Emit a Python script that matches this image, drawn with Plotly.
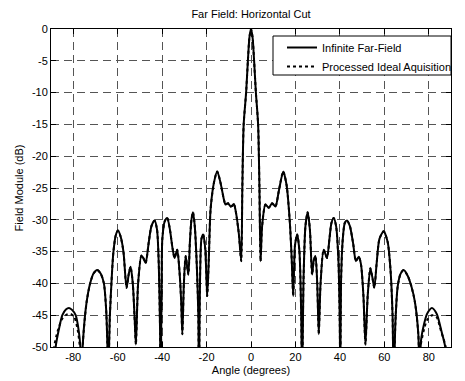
import plotly.graph_objects as go

# Solid curve: Infinite Far-Field (angle in degrees, field in dB)
solid_angle = [
    -89.0, -87.9, -86.5, -84.9, -83.3, -81.9, -80.4, -78.9, -77.5, -76.7, -76.4,
    -75.6, -74.0, -72.4, -70.8, -69.2, -67.6, -66.2, -65.2, -64.6, -64.3,
    -63.5, -62.5, -61.9, -60.9, -59.9, -58.7, -57.4, -56.0, -55.0, -54.2, -53.2, -52.3, -51.8,
    -50.8, -49.3, -48.2, -47.4, -46.0, -44.8, -43.4, -42.3, -41.5, -40.9, -40.7,
    -40.2, -39.9, -38.8, -37.7, -36.5, -35.3, -34.4, -33.2, -32.2, -31.4, -30.9,
    -30.2, -29.4, -28.2, -27.5, -26.8, -26.1, -25.3, -24.3, -23.7, -23.4,
    -22.3, -21.5, -20.6, -19.7, -19.0, -18.2, -16.7, -15.2, -13.7, -12.2, -11.5,
    -10.3, -9.2, -8.5, -7.7, -7.0, -5.5, -4.4,
    -3.9, -3.3, -2.2, -1.4, -0.7, 0.0, 0.7, 1.4, 2.2, 3.2, 3.8, 4.3,
    5.0, 6.5, 8.0, 9.5, 11.0, 12.5, 14.5, 16.0, 17.4, 18.3, 19.0,
    19.8, 20.8, 21.8, 22.6, 23.0,
    23.6, 24.5, 25.5, 26.5, 27.5, 28.2, 29.0, 29.8, 30.5,
    31.3, 32.7, 34.2, 35.3, 36.2, 37.2, 38.3, 39.3, 39.9, 40.2,
    40.5, 41.3, 42.2, 43.2, 44.5, 46.0, 47.2, 48.5, 49.5, 50.6, 51.5,
    52.5, 53.7, 54.6, 55.5, 56.5, 57.8, 59.7, 61.5, 62.8, 63.7, 64.2,
    65.0, 66.0, 67.3, 68.7, 70.5, 72.2, 73.8, 75.3, 75.9,
    76.5, 77.8, 79.2, 81.4, 83.6, 85.7, 87.4, 88.5,
]
solid_db = [
    -57, -50, -47.3, -45.0, -44.1, -43.85, -44.2, -45.0, -47.5, -50.5, -56,
    -49, -43, -40, -38.4, -37.9, -38.5, -40, -44, -50, -56,
    -45, -38, -35, -32.5, -31.7, -32.6, -35, -40.7, -38.5, -37.4, -40, -46, -49.6,
    -40, -35.6, -36.2, -36.8, -33.5, -31, -30.1, -31.5, -37, -48, -56,
    -40, -33, -30.2, -29.7, -31.5, -34.5, -36, -34.7, -38, -43, -48,
    -40, -35.7, -38.6, -33.5, -30, -28.8, -31, -38, -45, -56,
    -33, -32.3, -34.5, -42, -36.3, -28.4, -24.2, -22.4, -24.2, -26.8, -27.6,
    -27.4, -27.9, -27.8, -27.5, -28.4, -32.1, -36.5,
    -25, -15, -10, -5, -1.3, 0, -1.3, -5, -10, -15, -25, -36.5,
    -31.0, -27.6, -28.1, -27.4, -27.9, -25.5, -22.4, -24.5, -30, -36, -42,
    -34, -32.3, -35, -45, -56,
    -40, -31, -28.8, -31.5, -38.6, -36.5, -35.7, -40, -48,
    -40, -34.7, -36, -33, -30.5, -29.7, -31, -36, -45, -56,
    -40, -33, -30.5, -30.1, -31, -33.8, -36.5, -35.8, -37, -42, -49.6,
    -42, -37.6, -39, -40.7, -37, -33, -31.8, -33.5, -38, -45, -56,
    -46, -40.5, -38.5, -37.9, -38.8, -40.5, -43, -48, -56,
    -49, -46.5, -44.8, -43.85, -44.8, -47.5, -50, -57,
]

# Dotted curve: Processed Ideal Aquisition (differs only in the outer lobes)
dotted_left_angle = [-89.4, -88.6, -87.0, -85.0, -83.0, -81.1, -79.5, -78.0, -76.9, -76.4]
dotted_left_db = [-56, -50, -47.5, -45.6, -44.9, -44.8, -45.3, -47.3, -50.5, -56]
dotted_right_angle = [75.9, 76.3, 77.6, 79.2, 81.5, 83.5, 85.5, 87.6, 88.8]
dotted_right_db = [-56, -50, -47.6, -45.8, -45.0, -45.3, -47.5, -50, -57]

x_ticks = [-80, -60, -40, -20, 0, 20, 40, 60, 80]
x_tick_labels = ["-80", "-60", "-40", "-20", "0", "20", "40", "60", "80"]
y_ticks = [0, -5, -10, -15, -20, -25, -30, -35, -40, -45, -50]
y_tick_labels = ["0", "-5", "-10", "-15", "-20", "-25", "-30", "-35", "-40", "-45", "-50"]

mid = [(a, d) for a, d in zip(solid_angle, solid_db) if -76.4 < a < 75.9]
dotted_angle = dotted_left_angle + [a for a, _ in mid] + dotted_right_angle
dotted_db = dotted_left_db + [d for _, d in mid] + dotted_right_db

FONT = "Arial, Liberation Sans, sans-serif"

fig = go.Figure()
fig.add_trace(go.Scatter(
    x=solid_angle, y=solid_db, mode="lines", name="Infinite Far-Field",
    line=dict(color="black", width=2, shape="spline", smoothing=0.7),
))
fig.add_trace(go.Scatter(
    x=dotted_angle, y=dotted_db, mode="lines", name="Processed Ideal Aquisition",
    line=dict(color="black", width=2, dash="dot", shape="spline", smoothing=0.7),
))

axis_common = dict(
    showline=True, linecolor="black", linewidth=1, mirror="ticks",
    ticks="inside", ticklen=5, tickcolor="black", automargin=False,
    showgrid=True, gridcolor="#555555", gridwidth=1, griddash="8px,5px",
    zeroline=False, tickfont=dict(family=FONT, size=11, color="black"),
)

fig.update_xaxes(range=[-90, 90], tickvals=x_ticks, ticktext=x_tick_labels,
                 title=dict(text="Angle (degrees)", font=dict(family=FONT, size=11, color="black"), standoff=4),
                 **axis_common)
fig.update_yaxes(range=[-50, 0], tickvals=y_ticks, ticktext=y_tick_labels,
                 title=dict(text="Field Module (dB)", font=dict(family=FONT, size=11, color="black"), standoff=6),
                 **axis_common)

# legend frame
fig.add_shape(type="rect", xref="paper", yref="paper",
              x0=(273 - 51) / 400, x1=1.0, y0=1 - (75 - 29) / 318, y1=1 - (36 - 29) / 318,
              line=dict(color="black", width=1), fillcolor="white", layer="above")

fig.update_layout(
    template="none",
    width=465, height=381,
    margin=dict(l=51, r=14, t=29, b=34, autoexpand=False),
    paper_bgcolor="white", plot_bgcolor="white",
    title=dict(text="Far Field: Horizontal Cut", x=251 / 465, xanchor="center",
               y=1 - 14 / 381, yanchor="middle",
               font=dict(family=FONT, size=11, color="black")),
    legend=dict(x=(282 - 51) / 400, y=1 - (33 - 29) / 318, xanchor="left", yanchor="top",
                bgcolor="rgba(0,0,0,0)", borderwidth=0,
                font=dict(family=FONT, size=11, color="black"), tracegroupgap=0),
    showlegend=True,
)

fig.write_html("out.html", config={"displayModeBar": False},
               post_script="document.body.style.margin='0';document.body.style.overflow='hidden';")
